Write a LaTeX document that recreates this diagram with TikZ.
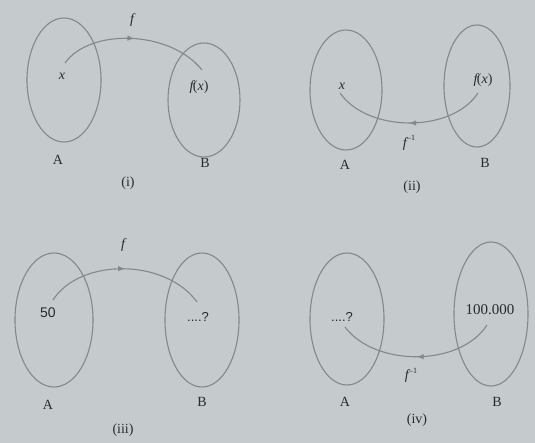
\documentclass[tikz,border=0pt]{standalone}
\usepackage{fontspec}
\setmainfont{Liberation Serif}
\usetikzlibrary{shapes.geometric,decorations.markings,arrows.meta}
\definecolor{bgc}{RGB}{197,203,204}
\definecolor{linec}{RGB}{130,136,140}
\definecolor{txt}{RGB}{40,42,45}
\newfontfamily\numsans{Liberation Sans}
\newcommand{\invsup}{\upshape\kern0.5pt\raisebox{0.45em}{\fontsize{8}{9}\selectfont\textendash1}}
\tikzset{
  setring/.style={draw=linec, line width=1.1pt, ellipse, inner sep=0pt, outer sep=0pt},
  lbl/.style={text=txt, font=\fontsize{14}{16}\selectfont, inner sep=0pt},
  mlbl/.style={text=txt, font=\fontsize{14}{16}\selectfont\itshape, inner sep=0pt},
  maparrow/.style={draw=linec, line width=1.1pt, postaction={decorate},
    decoration={markings, mark=at position 0.5 with {\arrow[linec]{Latex[length=7pt,width=5.5pt]}}}}
}
\begin{document}
\begin{tikzpicture}[x=1pt,y=-1pt]
\fill[bgc] (0,0) rectangle (535,443);
\useasboundingbox (0,0) rectangle (535,443);

% ---------- (i) ----------
\node[setring, minimum width=74pt, minimum height=124pt] (A1) at (64,80) {};
\node[setring, minimum width=72pt, minimum height=114pt] (B1) at (204,100) {};
\node[mlbl] (x1) at (62,76) {x};
\node[mlbl] (fx1) at (199,87) {f\kern-0.5pt\upshape(\itshape x\upshape)};
\coordinate (s1) at (65,63);
\coordinate (e1) at (202,70);
\draw[maparrow] (s1) .. controls (90,28) and (170,30) .. (e1);
\node[mlbl] (f1) at (132,20) {f};
\node[lbl] (la1) at (58,160) {A};
\node[lbl] (lb1) at (205,163) {B};
\node[lbl] (c1) at (128,183) {(i)};

% ---------- (ii) ----------
\node[setring, minimum width=72pt, minimum height=120pt] (A2) at (346,90) {};
\node[setring, minimum width=66pt, minimum height=122pt] (B2) at (477,86) {};
\node[mlbl] (x2) at (342,86) {x};
\node[mlbl] (fx2) at (483,80) {f\kern-0.5pt\upshape(\itshape x\upshape)};
\coordinate (s2) at (478,93);
\coordinate (e2) at (340,93);
\draw[maparrow] (s2) .. controls (452,133) and (368,133) .. (e2);
\node[mlbl] (f2) at (409,143) {f\invsup};
\node[lbl] (la2) at (345,165) {A};
\node[lbl] (lb2) at (485,163) {B};
\node[lbl] (c2) at (412,187) {(ii)};

% ---------- (iii) ----------
\node[setring, minimum width=78pt, minimum height=134pt] (A3) at (54,320) {};
\node[setring, minimum width=74pt, minimum height=134pt] (B3) at (202,320) {};
\node[lbl, font=\numsans\fontsize{14}{16}\selectfont] (v3) at (48,313) {50};
\node[lbl, font=\numsans\fontsize{13}{14}\selectfont] (q3) at (198,317) {....?};
\coordinate (s3) at (53,300);
\coordinate (e3) at (197,302);
\draw[maparrow] (s3) .. controls (80,258) and (165,258) .. (e3);
\node[mlbl] (f3) at (123,245) {f};
\node[lbl] (la3) at (48,405) {A};
\node[lbl] (lb3) at (202,402) {B};
\node[lbl] (c3) at (123,430) {(iii)};

% ---------- (iv) ----------
\node[setring, minimum width=74pt, minimum height=132pt] (A4) at (347,319) {};
\node[setring, minimum width=74pt, minimum height=144pt] (B4) at (491,314) {};
\node[lbl, font=\numsans\fontsize{13}{14}\selectfont] (q4) at (342,317) {....?};
\node[lbl, font=\fontsize{15}{17}\selectfont] (v4) at (490,310) {100.000};
\coordinate (s4) at (487,325);
\coordinate (e4) at (345,327);
\draw[maparrow] (s4) .. controls (460,367) and (375,367) .. (e4);
\node[mlbl] (f4) at (411,375) {f\invsup};
\node[lbl] (la4) at (345,402) {A};
\node[lbl] (lb4) at (497,402) {B};
\node[lbl] (c4) at (417,420) {(iv)};
\end{tikzpicture}
\end{document}
